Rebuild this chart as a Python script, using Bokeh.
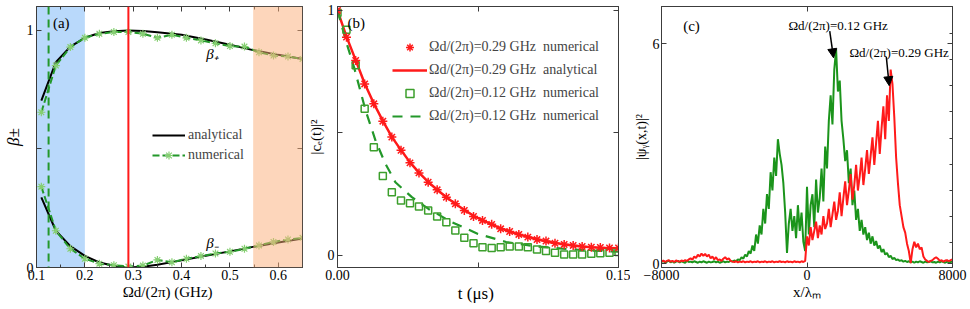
from bokeh.plotting import figure
from bokeh.layouts import row
from bokeh.models import (Range1d, FixedTicker, LinearAxis, Label, Span, BoxAnnotation,
                          Legend, LegendItem, Arrow, NormalHead, CustomLabelingPolicy)
from bokeh.embed import file_html
from bokeh.resources import INLINE

# ---------------- data ----------------
# panel (a)
x_an = [0.11, 0.14, 0.17, 0.2, 0.23, 0.26, 0.29, 0.32, 0.35, 0.4, 0.45, 0.5, 0.55, 0.6, 0.65]
bp_an = [0.704, 0.866, 0.932, 0.969, 0.989, 0.997, 1.0, 0.998, 0.992, 0.982, 0.962, 0.940, 0.916, 0.897, 0.880]
bm_an = [0.296, 0.155, 0.090, 0.049, 0.021, 0.007, 0.0, 0.003, 0.012, 0.030, 0.050, 0.068, 0.088, 0.105, 0.122]
x_num = [0.11, 0.14, 0.17, 0.2, 0.23, 0.26, 0.29, 0.32, 0.35, 0.38, 0.41, 0.44, 0.47, 0.5,
         0.53, 0.56, 0.59, 0.62, 0.65]
bp_num = [0.655, 0.852, 0.930, 0.969, 0.986, 0.993, 0.993, 0.986, 0.969, 0.982, 0.969, 0.958,
          0.946, 0.934, 0.932, 0.908, 0.894, 0.890, 0.880]
bm_num = [0.341, 0.155, 0.079, 0.037, 0.016, 0.010, 0.004, 0.008, 0.032, 0.022, 0.037, 0.048,
          0.059, 0.066, 0.079, 0.093, 0.108, 0.118, 0.125]
a_xticks = [0.1, 0.2, 0.3, 0.4, 0.5, 0.6]
a_xminor = [0.15, 0.25, 0.35, 0.45, 0.55]
a_yticks = [0, 0.5, 1]

# panel (b)
t_pts = [0.0, 0.0048, 0.0097, 0.0145, 0.0194, 0.0242, 0.029, 0.0339, 0.0387, 0.0435, 0.0484,
         0.0532, 0.0581, 0.0629, 0.0677, 0.0726, 0.0774, 0.0823, 0.0871, 0.0919, 0.0968,
         0.1016, 0.1065, 0.1113, 0.1161, 0.121, 0.1258, 0.1306, 0.1355, 0.1403, 0.1452, 0.15]
c_red_num = [1.0, 0.891, 0.796, 0.700, 0.619, 0.548, 0.483, 0.429, 0.378, 0.337, 0.299, 0.268,
             0.238, 0.211, 0.184, 0.159, 0.143, 0.127, 0.109, 0.098, 0.086, 0.075, 0.065,
             0.059, 0.050, 0.045, 0.041, 0.037, 0.034, 0.033, 0.031, 0.031]
c_red_an = [1.0, 0.893, 0.797, 0.702, 0.620, 0.549, 0.484, 0.430, 0.380, 0.338, 0.300, 0.268,
            0.238, 0.211, 0.186, 0.162, 0.144, 0.127, 0.111, 0.098, 0.086, 0.076, 0.066,
            0.058, 0.051, 0.046, 0.041, 0.037, 0.034, 0.032, 0.031, 0.030]
c_grn_num = [0.99, 0.921, 0.776, 0.599, 0.442, 0.324, 0.258, 0.224, 0.213, 0.200, 0.184, 0.159,
             0.136, 0.102, 0.072, 0.050, 0.034, 0.031, 0.034, 0.037, 0.037, 0.034, 0.024,
             0.018, 0.011, 0.004, 0.004, 0.004, 0.007, 0.009, 0.011, 0.014]
t_dash = [0.0, 0.0044, 0.0088, 0.015, 0.0203, 0.0256, 0.0309, 0.0397, 0.0486, 0.061, 0.075,
          0.09, 0.105, 0.12, 0.135, 0.15]
c_grn_dash = [1.0, 0.878, 0.769, 0.592, 0.469, 0.374, 0.299, 0.238, 0.19, 0.136, 0.088,
              0.055, 0.038, 0.028, 0.02, 0.016]
b_xticks = [0.0, 0.075, 0.15]
b_yticks = [0, 0.5, 1]

# panel (c)
x_c = list(range(-8000, 8001, 100))
psi_012 = [0.05, 0.08, 0.03, 0.06, 0.09, 0.04, 0.07, 0.03, 0.06, 0.08,
           0.04, 0.07, 0.05, 0.03, 0.08, 0.05, 0.06, 0.04, 0.07, 0.05,
           0.03, 0.06, 0.04, 0.07, 0.05, 0.03, 0.06, 0.04, 0.05, 0.07,
           0.04, 0.06, 0.03, 0.05, 0.07, 0.04, 0.06, 0.05, 0.08, 0.06,
           0.09, 0.07, 0.12, 0.1, 0.18, 0.14, 0.25, 0.2, 0.35, 0.28,
           0.5, 0.35, 0.8, 0.55, 1.05, 0.8, 1.5, 1.1, 1.9, 1.5,
           2.5, 2.0, 2.9, 2.4, 3.4, 3.0, 2.7, 2.2, 1.4, 0.3,
           1.1, 1.5, 0.9, 1.3, 0.7, 1.6, 0.9, 1.4, 0.6, 0.35,
           2.1, 0.8, 1.6, 1.9, 1.0, 2.3, 1.4, 1.8, 2.6, 1.7,
           3.2, 2.6, 3.9, 4.6, 3.8, 5.3, 5.85, 4.7, 5.0, 3.9,
           3.4, 2.8, 3.1, 2.2, 2.6, 1.6, 2.0, 1.2, 1.5, 0.9,
           1.2, 0.8, 1.0, 0.65, 0.85, 0.55, 0.75, 0.5, 0.62, 0.42,
           0.5, 0.32, 0.4, 0.25, 0.3, 0.18, 0.22, 0.13, 0.16, 0.1,
           0.12, 0.08, 0.1, 0.06, 0.08, 0.05, 0.07, 0.04, 0.06, 0.03,
           0.06, 0.04, 0.07, 0.05, 0.03, 0.06, 0.04, 0.05, 0.07, 0.04,
           0.05, 0.03, 0.06, 0.04, 0.07, 0.05, 0.03, 0.06, 0.04, 0.05,
           0.06]
psi_029 = [0.06, 0.09, 0.05, 0.08, 0.1, 0.06, 0.08, 0.05, 0.09, 0.07,
           0.06, 0.09, 0.07, 0.1, 0.08, 0.12, 0.15, 0.11, 0.2, 0.16,
           0.25, 0.2, 0.28, 0.22, 0.27, 0.2, 0.25, 0.15, 0.2, 0.12,
           0.18, 0.1, 0.12, 0.08, 0.14, 0.18, 0.12, 0.15, 0.08, 0.06,
           0.05, 0.07, 0.04, 0.06, 0.05, 0.07, 0.04, 0.06, 0.05, 0.07,
           0.04, 0.06, 0.05, 0.07, 0.04, 0.06, 0.05, 0.07, 0.04, 0.06,
           0.05, 0.07, 0.04, 0.06, 0.05, 0.07, 0.05, 0.06, 0.04, 0.07,
           0.05, 0.06, 0.04, 0.07, 0.05, 0.06, 0.04, 0.07, 0.05, 0.08,
           0.75, 0.5, 1.0, 0.65, 0.9, 1.15, 0.7, 1.05, 0.8, 1.3,
           0.95, 1.1, 1.5, 1.0, 1.35, 1.7, 1.2, 1.45, 1.95, 1.3,
           1.8, 2.25, 1.6, 2.0, 2.45, 1.75, 2.15, 2.7, 2.0, 2.4,
           2.9, 2.15, 2.6, 3.1, 2.45, 2.95, 3.45, 2.7, 3.3, 3.9,
           3.0, 3.7, 4.3, 3.4, 4.6, 3.9, 5.3, 4.9, 4.0, 2.9,
           2.2, 1.6, 1.3, 1.0, 0.85, 0.55, 0.35, 0.02, 0.4, 0.6,
           0.45, 0.55, 0.4, 0.45, 0.2, 0.12, 0.08, 0.05, 0.08, 0.1,
           0.15, 0.18, 0.14, 0.08, 0.1, 0.06, 0.09, 0.1, 0.07, 0.1,
           0.12]
c_xticks = [-8000, 0, 8000]
c_yticks = [0, 6]
c_yminor = [0.57, 1.29, 2.0, 2.72, 3.43, 4.15, 4.86, 5.57, 6.29]

# ---------------- style ----------------
FONT = "Liberation Serif, serif"
FRAME = "#3c3c3c"
RED = "#ff1a1a"
GREEN = "#23982a"
GREEN_MK = "#86cf72"
GREEN_SQ = "#3c9f2c"
H = 309

HIDE = CustomLabelingPolicy(code="""
const n = indices.size
for (let i = 0; i < n; i++) indices.unset(i)
return indices
""")


def make_fig(w, xr, yr, bl, br):
    p = figure(width=w, height=H, x_range=Range1d(*xr), y_range=Range1d(*yr),
               output_backend="svg", toolbar_location=None,
               min_border_left=bl, min_border_right=br, min_border_top=6, min_border_bottom=42)
    p.grid.visible = False
    p.outline_line_color = FRAME
    p.outline_line_width = 1
    p.background_fill_color = "white"
    p.border_fill_color = "white"
    return p


def tick_style(ax, ticks, minor):
    ax.ticker = FixedTicker(ticks=list(ticks), minor_ticks=list(minor))
    ax.major_tick_in = 5
    ax.major_tick_out = 0
    ax.minor_tick_in = 3
    ax.minor_tick_out = 0
    ax.axis_line_color = FRAME
    ax.major_tick_line_color = FRAME
    ax.minor_tick_line_color = FRAME


def style_axis(ax, ticks, minor=(), labels=None, title=None, tsize="15px", tstyle="normal",
               standoff=3):
    tick_style(ax, ticks, minor)
    ax.major_label_text_font = FONT
    ax.major_label_text_font_size = "14px"
    ax.major_label_text_color = "black"
    ax.major_label_standoff = standoff
    if labels:
        ax.major_label_overrides = labels
    ax.axis_label = title
    ax.axis_label_text_font = FONT
    ax.axis_label_text_font_size = tsize
    ax.axis_label_text_font_style = tstyle
    ax.axis_label_text_color = "black"
    ax.axis_label_standoff = 1


def frame_axes(p, xt, yt, xminor=(), yminor=()):
    for side, t, m in (("above", xt, xminor), ("right", yt, yminor)):
        ax = LinearAxis(major_label_policy=HIDE, major_label_text_font_size="0px",
                        major_label_standoff=0)
        tick_style(ax, t, m)
        p.add_layout(ax, side)


def txt(p, x, y, s, size="14px", align="left", baseline="middle", style="normal"):
    p.add_layout(Label(x=x, y=y, text=s, text_font=FONT, text_font_size=size,
                       text_align=align, text_baseline=baseline,
                       text_font_style=style, text_color="black"))


# ---------------- panel (a) ----------------
pa = make_fig(304, (0.1, 0.65), (0.0, 1.101), 31, 2)
style_axis(pa.xaxis[0], a_xticks, a_xminor, title="Ωd/(2π)  (GHz)", standoff=2)
style_axis(pa.yaxis[0], a_yticks, labels={0.5: ""}, title="β±", tsize="17px", tstyle="italic")
frame_axes(pa, a_xticks, a_yticks, a_xminor)

pa.add_layout(BoxAnnotation(left=0.1, right=0.2, fill_color="#b9d9fb", fill_alpha=1.0,
                            line_alpha=0, level="underlay"))
pa.add_layout(Span(location=0.125, dimension="height", line_color=GREEN, line_width=2,
                   line_dash="8 5"))
pa.add_layout(Span(location=0.29, dimension="height", line_color=RED, line_width=2))

r_bp = pa.line(x_an, bp_an, line_color="black", line_width=2)
pa.line(x_an, bm_an, line_color="black", line_width=2)
r_nl = pa.line(x_num, bp_num, line_color=GREEN, line_width=2, line_dash="7 3")
pa.line(x_num, bm_num, line_color=GREEN, line_width=2, line_dash="7 3")
r_np = pa.scatter(x_num, bp_num, marker="asterisk", size=8, line_color=GREEN_MK, line_width=1.2)
pa.scatter(x_num, bm_num, marker="asterisk", size=8, line_color=GREEN_MK, line_width=1.2)

pa.add_layout(BoxAnnotation(left=0.548, right=0.65, fill_color="#fbae78", fill_alpha=0.5,
                            line_alpha=0))

leg_a = Legend(items=[LegendItem(label="analytical", renderers=[r_bp]),
                      LegendItem(label="numerical", renderers=[r_nl, r_np])],
               location=(114, 100), background_fill_alpha=0, border_line_alpha=0,
               label_text_font=FONT, label_text_font_size="14px", glyph_width=33,
               glyph_height=20, label_height=20, spacing=0, padding=2, margin=0,
               label_standoff=3)
pa.add_layout(leg_a)

txt(pa, 0.134, 1.03, "(a)", size="15px")
txt(pa, 0.451, 0.90, "β₊", size="15px", style="italic")
txt(pa, 0.451, 0.105, "β₋", size="15px", style="italic")

# ---------------- panel (b) ----------------
pb = make_fig(326, (0.0, 0.15), (-0.049, 1.016), 31, 12)
style_axis(pb.xaxis[0], b_xticks, labels={0.0: "0.00", 0.075: "", 0.15: "0.15"},
           title="t  (μs)", tsize="17px", standoff=2)
style_axis(pb.yaxis[0], b_yticks, labels={0.5: ""}, title="|cₑ(t)|²")
frame_axes(pb, b_xticks, b_yticks)

r_rl = pb.line(t_pts, c_red_an, line_color=RED, line_width=2.5)
r_gd = pb.line(t_dash, c_grn_dash, line_color=GREEN, line_width=2.2, line_dash="10 8")
r_gs = pb.scatter(t_pts, c_grn_num, marker="square", size=7, fill_alpha=0,
                  line_color=GREEN_SQ, line_width=1.5)
r_rs = pb.scatter(t_pts, c_red_num, marker="asterisk", size=9, line_color=RED, line_width=1.5)

leg_b = Legend(items=[LegendItem(label="Ωd/(2π)=0.29 GHz  numerical", renderers=[r_rs]),
                      LegendItem(label="Ωd/(2π)=0.29 GHz  analytical", renderers=[r_rl]),
                      LegendItem(label="Ωd/(2π)=0.12 GHz  numerical", renderers=[r_gs]),
                      LegendItem(label="Ωd/(2π)=0.12 GHz  numerical", renderers=[r_gd])],
               location=(53, 139), background_fill_alpha=0, border_line_alpha=0,
               label_text_font=FONT, label_text_font_size="14px", glyph_width=35,
               glyph_height=20, label_height=20, spacing=3, padding=2, margin=0,
               label_standoff=2)
pb.add_layout(leg_b)

txt(pb, 0.0053, 0.947, "(b)", size="15px")

# ---------------- panel (c) ----------------
pc = make_fig(340, (-8000, 8000), (-0.1, 7.02), 26, 18)
style_axis(pc.xaxis[0], c_xticks, title="x/λₘ", standoff=2)
style_axis(pc.yaxis[0], c_yticks, title="|ψᵧ(x,t)|²", tsize="14px", standoff=2)
frame_axes(pc, c_xticks, c_yticks, yminor=c_yminor)

pc.line(x_c, psi_012, line_color="#1b941b", line_width=2)
pc.line(x_c, psi_029, line_color=RED, line_width=2)

pc.add_layout(Arrow(x_start=1250, y_start=6.35, x_end=1460, y_end=5.62, line_width=1.5,
                    line_color="black",
                    end=NormalHead(size=9, fill_color="black", line_color="black")))
pc.add_layout(Arrow(x_start=4360, y_start=5.65, x_end=4520, y_end=4.86, line_width=1.5,
                    line_color="black",
                    end=NormalHead(size=9, fill_color="black", line_color="black")))

txt(pc, -6810, 6.5, "(c)", size="15px")
txt(pc, -1021, 6.5, "Ωd/(2π)=0.12 GHz", size="13px")
txt(pc, 2333, 5.76, "Ωd/(2π)=0.29 GHz", size="13px")

layout = row(pa, pb, pc)
open("out.html", "w").write(file_html(layout, INLINE))
